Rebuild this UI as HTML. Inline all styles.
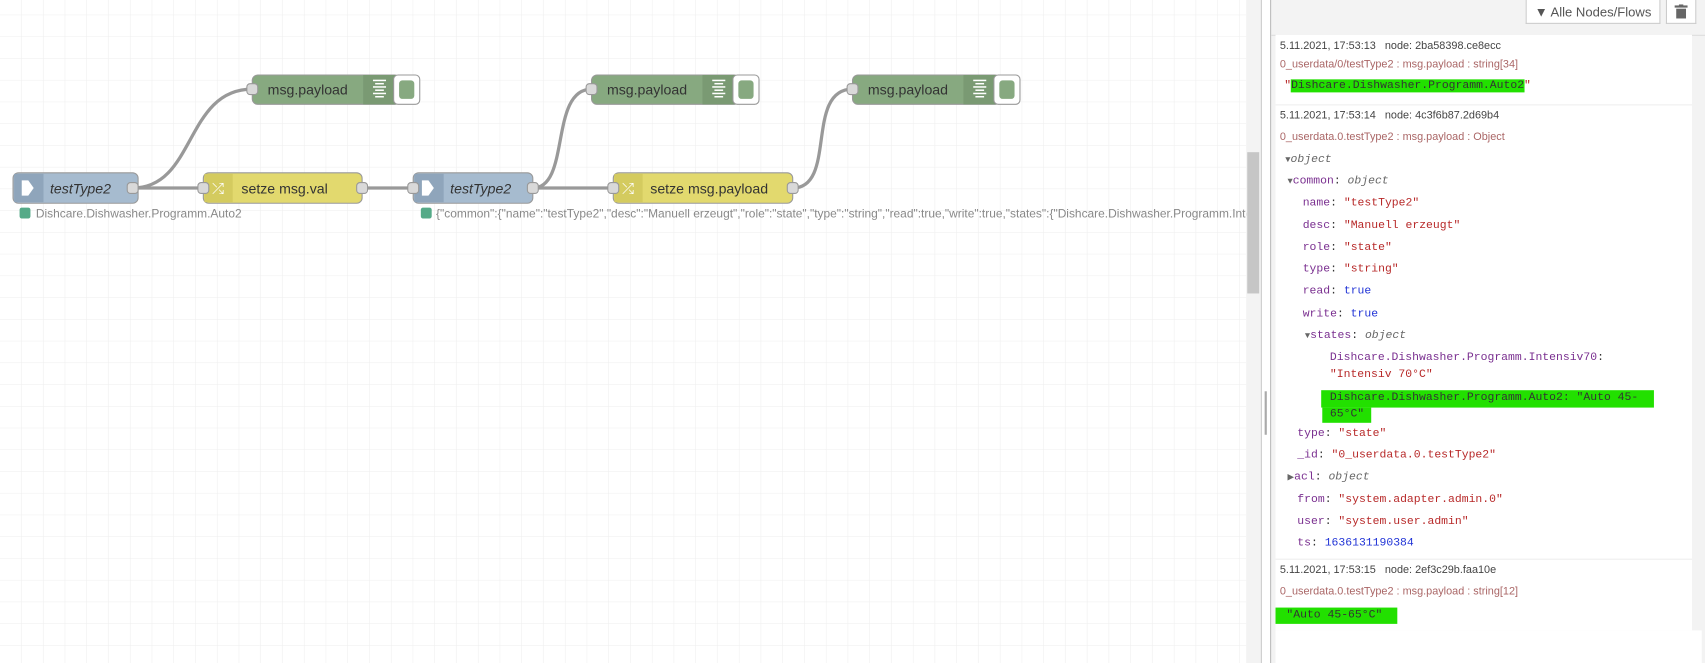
<!DOCTYPE html>
<html><head><meta charset="utf-8"><style>
html,body{margin:0;padding:0;width:1705px;height:663px;overflow:hidden;background:#fff}
#w{position:absolute;left:0;top:0;width:1568px;height:610px;transform:scale(1.0874,1.0869);transform-origin:0 0;font-family:"Liberation Sans",sans-serif}
.sb{position:absolute;left:1168px;top:0;width:400px;height:610px;background:#f3f3f3;border-left:1px solid #bbb}
.btn{position:absolute;top:0;height:22px;border:1px solid #ccc;border-top:none;background:#fff;font-size:12px;color:#555;line-height:22px;text-align:center;box-sizing:border-box}
.pan{position:absolute;left:4px;top:32px;width:383px;height:548px;background:#fff}
.t{position:absolute;white-space:nowrap}
.d{font-size:10px;color:#444}
.p{font-size:10px;color:#a66}
.m{font-family:"Liberation Mono",monospace;font-size:10.5px;color:#333}
.k{color:#792e8f}.s{color:#b72828}.n{color:#2033d6}.o{color:#666;font-style:italic}
.hl{background:#22e000}
.hl2{color:#333}
.sep{position:absolute;left:0;width:383px;height:1px;background:#eee}
</style></head><body><div id="w">
<svg width="1168" height="610" style="position:absolute;left:0;top:0" font-family="Liberation Sans, sans-serif">
<defs><pattern id="g" width="20" height="20" patternUnits="userSpaceOnUse" x="0" y="-6"><path d="M20 0V20M0 20H20" stroke="#eee" stroke-width="1" fill="none"/></pattern></defs>
<rect width="1146" height="610" fill="url(#g)"/>
<rect x="1146" y="0" width="14" height="610" fill="#f3f3f3"/>
<rect x="1147" y="140" width="11" height="130" fill="#c6c6c6"/>
<line x1="1160" y1="0" x2="1160" y2="610" stroke="#ccc"/>
<rect x="1163" y="360" width="2" height="40" fill="#aaa"/>
<g fill="none" stroke="#999" stroke-width="3">
<path d="M122 173C180 173 170 82 232 82"/>
<path d="M122 173H187"/>
<path d="M333 173H380"/>
<path d="M490 173C525 173 505 82 544 82"/>
<path d="M490 173H564"/>
<path d="M729 173C770 173 740 82 784 82"/>
</g>
<g id="dbg">
<rect x="232" y="69" width="136" height="27" rx="5" fill="#87a980" stroke="#999"/>
<rect x="334" y="69" width="34" height="27" fill="#7a9a73"/>
<rect x="362" y="69" width="24" height="27" rx="4" fill="#fff" stroke="#999"/>
<rect x="367" y="74" width="14" height="17" rx="3" fill="#87a980"/>
<g stroke="#fff" stroke-width="1.4"><line x1="343" y1="74" x2="355" y2="74"/><line x1="345" y1="77" x2="353" y2="77"/><line x1="343" y1="80" x2="355" y2="80"/><line x1="345" y1="83" x2="353" y2="83"/><line x1="343" y1="86" x2="355" y2="86"/><line x1="345" y1="89" x2="353" y2="89"/></g>
<text x="283" y="87" font-size="13" fill="#333" text-anchor="middle">msg.payload</text>
<rect x="227" y="77" width="10" height="10" rx="3" fill="#d9d9d9" stroke="#999"/>
</g>
<use href="#dbg" x="312"/>
<use href="#dbg" x="552"/>
<rect x="12" y="159" width="115" height="28" rx="5" fill="#a6bbcf" stroke="#999"/>
<rect x="13" y="160" width="27" height="26" fill="#8fa5bb"/>
<path d="M20 166h6l5 7-5 7h-6z" fill="#fff"/>
<text x="46" y="178" font-size="13" font-style="italic" fill="#333">testType2</text>
<rect x="117" y="168" width="10" height="10" rx="3" fill="#d9d9d9" stroke="#999"/>
<rect x="187" y="159" width="146" height="28" rx="5" fill="#e2d96e" stroke="#999"/>
<rect x="188" y="160" width="26" height="26" fill="#d4cb5f"/>
<text x="195" y="178" font-size="14" fill="#fff">⤮</text>
<text x="222" y="178" font-size="13" fill="#333">setze msg.val</text>
<rect x="182" y="168" width="10" height="10" rx="3" fill="#d9d9d9" stroke="#999"/>
<rect x="328" y="168" width="10" height="10" rx="3" fill="#d9d9d9" stroke="#999"/>
<rect x="380" y="159" width="110" height="28" rx="5" fill="#a6bbcf" stroke="#999"/>
<rect x="381" y="160" width="27" height="26" fill="#8fa5bb"/>
<path d="M388 166h6l5 7-5 7h-6z" fill="#fff"/>
<text x="414" y="178" font-size="13" font-style="italic" fill="#333">testType2</text>
<rect x="375" y="168" width="10" height="10" rx="3" fill="#d9d9d9" stroke="#999"/>
<rect x="485" y="168" width="10" height="10" rx="3" fill="#d9d9d9" stroke="#999"/>
<rect x="564" y="159" width="165" height="28" rx="5" fill="#e2d96e" stroke="#999"/>
<rect x="565" y="160" width="26" height="26" fill="#d4cb5f"/>
<text x="572" y="178" font-size="14" fill="#fff">⤮</text>
<text x="598" y="178" font-size="13" fill="#333">setze msg.payload</text>
<rect x="559" y="168" width="10" height="10" rx="3" fill="#d9d9d9" stroke="#999"/>
<rect x="724" y="168" width="10" height="10" rx="3" fill="#d9d9d9" stroke="#999"/>
<rect x="18" y="191" width="10" height="10" rx="2" fill="#5a8"/>
<text x="33" y="200" font-size="11" fill="#888">Dishcare.Dishwasher.Programm.Auto2</text>
<rect x="387" y="191" width="10" height="10" rx="2" fill="#5a8"/>
<svg x="0" y="0" width="1146" height="610"><text x="401" y="200" font-size="11" fill="#888">{"common":{"name":"testType2","desc":"Manuell erzeugt","role":"state","type":"string","read":true,"write":true,"states":{"Dishcare.Dishwasher.Programm.Intensiv70":"Intensiv 70°C"}}}</text></svg>
</svg>
<div class="sb">
<div class="btn" style="left:234px;width:124px">▼ Alle Nodes/Flows</div>
<div class="btn" style="left:363px;width:28px"><svg width="12" height="13" viewBox="0 0 12 13" style="vertical-align:-2px"><rect x="0" y="1" width="12" height="2" fill="#666"/><rect x="4" y="0" width="4" height="2" fill="#666"/><rect x="1.5" y="4" width="9" height="9" fill="#666"/></svg></div>
<div style="position:absolute;left:0;top:32px;width:400px;height:1px;background:#ddd"></div>
<div class="pan">
<div class="t d" style="left:4px;top:5px">5.11.2021, 17:53:13 &nbsp; node: 2ba58398.ce8ecc</div>
<div class="t p" style="left:4px;top:22px">0_userdata/0/testType2 : msg.payload : string[34]</div>
<div class="t m" style="left:8px;top:41px"><span class="s">"</span><span class="hl hl2">Dishcare.Dishwasher.Programm.Auto2</span><span class="s">"</span></div>
<div class="sep" style="top:64px"></div>
<div class="t d" style="left:4px;top:69px">5.11.2021, 17:53:14 &nbsp; node: 4c3f6b87.2d69b4</div>
<div class="t p" style="left:4px;top:89px">0_userdata.0.testType2 : msg.payload : Object</div>
<div class="t m" style="left:9px;top:109px"><span style="font-size:8px;color:#666">▼</span><span class="o">object</span></div>
<div class="t m" style="left:11px;top:129px"><span style="font-size:8px;color:#666">▼</span><span class="k">common</span>: <span class="o">object</span></div>
<div class="t m" style="left:25px;top:149px"><span class="k">name</span>: <span class="s">"testType2"</span></div>
<div class="t m" style="left:25px;top:170px"><span class="k">desc</span>: <span class="s">"Manuell erzeugt"</span></div>
<div class="t m" style="left:25px;top:190px"><span class="k">role</span>: <span class="s">"state"</span></div>
<div class="t m" style="left:25px;top:210px"><span class="k">type</span>: <span class="s">"string"</span></div>
<div class="t m" style="left:25px;top:230px"><span class="k">read</span>: <span class="n">true</span></div>
<div class="t m" style="left:25px;top:251px"><span class="k">write</span>: <span class="n">true</span></div>
<div class="t m" style="left:27px;top:271px"><span style="font-size:8px;color:#666">▼</span><span class="k">states</span>: <span class="o">object</span></div>
<div class="t m" style="left:50px;top:291px"><span class="k">Dishcare.Dishwasher.Programm.Intensiv70</span>:</div>
<div class="t m" style="left:50px;top:307px"><span class="s">"Intensiv 70°C"</span></div>
<div class="hl" style="position:absolute;left:42px;top:327px;width:306px;height:16px"></div>
<div class="hl" style="position:absolute;left:43px;top:343px;width:45px;height:14px"></div>
<div class="t m hl2" style="left:50px;top:328px">Dishcare.Dishwasher.Programm.Auto2: "Auto 45-</div>
<div class="t m hl2" style="left:50px;top:343px">65°C"</div>
<div class="t m" style="left:20px;top:361px"><span class="k">type</span>: <span class="s">"state"</span></div>
<div class="t m" style="left:20px;top:381px"><span class="k">_id</span>: <span class="s">"0_userdata.0.testType2"</span></div>
<div class="t m" style="left:11px;top:401px"><span style="font-size:8px;color:#666">▶</span><span class="k">acl</span>: <span class="o">object</span></div>
<div class="t m" style="left:20px;top:422px"><span class="k">from</span>: <span class="s">"system.adapter.admin.0"</span></div>
<div class="t m" style="left:20px;top:442px"><span class="k">user</span>: <span class="s">"system.user.admin"</span></div>
<div class="t m" style="left:20px;top:462px"><span class="k">ts</span>: <span class="n">1636131190384</span></div>
<div class="sep" style="top:482px"></div>
<div class="t d" style="left:4px;top:487px">5.11.2021, 17:53:15 &nbsp; node: 2ef3c29b.faa10e</div>
<div class="t p" style="left:4px;top:507px">0_userdata.0.testType2 : msg.payload : string[12]</div>
<div class="hl" style="position:absolute;left:0;top:527px;width:112px;height:15px"></div>
<div class="t m hl2" style="left:10px;top:528px">"Auto 45-65°C"</div>
</div>
<div style="position:absolute;left:4px;top:580px;width:392px;height:30px;background:#fff"></div>
</div>
</div></body></html>
